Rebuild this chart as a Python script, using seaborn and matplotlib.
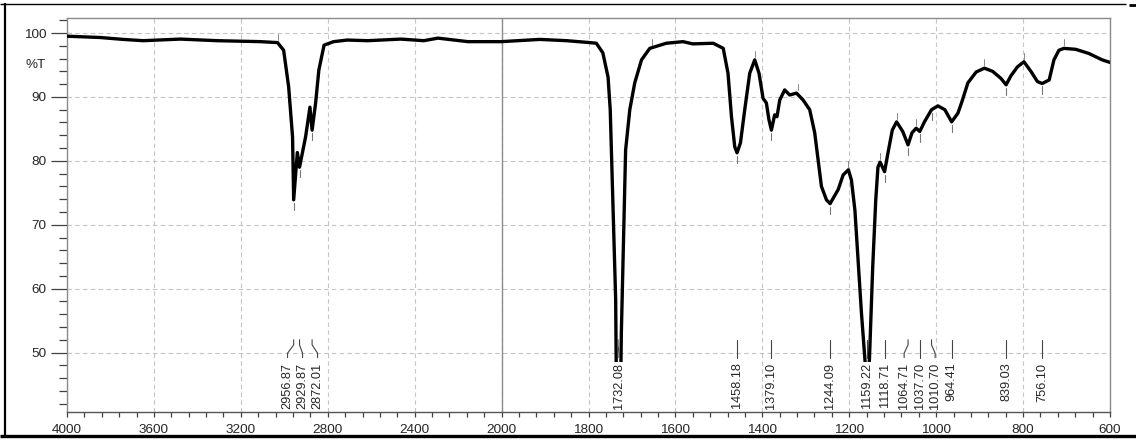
import numpy as np
import matplotlib
matplotlib.use("Agg")
import matplotlib.pyplot as plt
from matplotlib.lines import Line2D
from matplotlib.ticker import FixedLocator, NullFormatter
import seaborn as sns

# ---------------- data ----------------
wavenumber = [4000, 3848, 3742, 3649, 3479, 3308, 3110, 3031, 3003, 2980, 2962,
              2956.87, 2940, 2929.87, 2902, 2882, 2872.01, 2856, 2841, 2817, 2773,
              2710, 2616, 2464, 2358, 2293, 2155, 2002, 1912, 1850, 1797, 1782,
              1767, 1755, 1750, 1744, 1737.5, 1736.3, 1732.08, 1725.3, 1724.4, 1719,
              1714.6, 1705, 1693.6, 1678, 1659, 1621, 1582.5, 1560, 1513, 1490,
              1479, 1471, 1463.5, 1458.18, 1450.4, 1440.5, 1429, 1417.5, 1407.6,
              1398.4, 1390.7, 1384.7, 1379.10, 1371.6, 1366.3, 1360, 1348.6, 1337,
              1321.5, 1306, 1291, 1279.5, 1271.7, 1264, 1252.5, 1244.09, 1225.5,
              1214, 1202, 1195, 1187, 1179.6, 1172, 1164, 1159.22, 1153.5, 1146,
              1139, 1134, 1129, 1118.71, 1111, 1101, 1091, 1077, 1064.71, 1055.5,
              1046, 1037.70, 1027, 1015.5, 1010.70, 996, 980, 964.41, 950, 942,
              927, 908, 889, 870, 851, 839.03, 828, 813, 798, 782, 767, 756.10,
              740, 729, 717.6, 706, 679, 648.7, 618, 600]
transmittance = [99.5, 99.3, 99.0, 98.8, 99.05, 98.8, 98.65, 98.5, 97.3, 91.6, 83.75,
                 73.9, 81.3, 79.0, 83.75, 88.4, 84.8, 89.0, 94.2, 98.1, 98.65,
                 98.9, 98.8, 99.05, 98.8, 99.2, 98.65, 98.65, 99.0, 98.8, 98.5, 98.4,
                 96.9, 93.1, 88.0, 73.9, 58.3, 48.5, 44.0, 48.5, 53.1, 68.75,
                 81.7, 88.0, 92.2, 95.8, 97.6, 98.4, 98.65, 98.3, 98.4, 97.6,
                 93.7, 86.9, 82.2, 81.25, 82.8, 88.0, 93.7, 95.8, 93.7,
                 89.8, 89.05, 86.4, 84.8, 87.2, 86.9, 89.5, 91.1, 90.3,
                 90.6, 89.5, 88.0, 84.4, 80.2, 76.0, 73.9, 73.3, 75.5,
                 77.8, 78.6, 77.0, 72.3, 64.5, 56.25, 49.0, 44.0, 49.0, 63.4,
                 73.9, 79.0, 79.8, 78.3, 81.2, 84.8, 86.1, 84.6, 82.5, 84.4,
                 85.1, 84.6, 86.1, 87.45, 88.0, 88.6, 88.0, 86.1, 87.45, 89.0,
                 92.2, 93.9, 94.5, 94.0, 92.9, 91.9, 93.3, 94.7, 95.5, 94.0, 92.4, 92.1,
                 92.65, 95.8, 97.3, 97.6, 97.45, 96.8, 95.8, 95.4]

peak_wn = [2956.87, 2929.87, 2872.01, 1732.08, 1458.18, 1379.10, 1244.09, 1159.22,
           1118.71, 1064.71, 1037.70, 1010.70, 964.41, 839.03, 756.10]
peak_t = [73.9, 79.0, 84.8, 44.0, 81.25, 84.8, 73.3, 44.0,
          78.3, 82.5, 84.6, 88.0, 86.1, 91.9, 92.1]
peak_labels = ["2956.87", "2929.87", "2872.01", "1732.08", "1458.18", "1379.10",
               "1244.09", "1159.22", "1118.71", "1064.71", "1037.70", "1010.70",
               "964.41", "839.03", "756.10"]
label_wn = [2985, 2916, 2847, 1730, 1458.18, 1379.10, 1244.09, 1159.22,
            1118.71, 1073.7, 1037.70, 1002.3, 964.41, 839.03, 756.10]

max_wn = [3031, 1655, 1417.5, 1318, 1202, 1129, 1091, 1046, 889, 798, 706]
max_t = [98.5, 97.6, 95.8, 90.6, 78.6, 79.8, 86.1, 85.1, 94.5, 95.5, 97.6]

x_major = [4000, 3600, 3200, 2800, 2400, 2000, 1800, 1600, 1400, 1200, 1000, 800, 600]
x_minor = list(range(3920, 2000, -80)) + list(range(1960, 600, -40))
y_major = [50, 60, 70, 80, 90, 100]
y_minor = list(range(42, 103, 2))

# ---------------- style ----------------
sns.set_style("white")
plt.rcParams['font.family'] = ['Liberation Sans', 'DejaVu Sans']

W, H = 1136, 441
fig = plt.figure(figsize=(W / 100, H / 100), dpi=100)
ax = fig.add_axes([67 / W, 1 - 412 / H, (1110 - 67) / W, (412 - 18) / H])


def fwd(x):
    x = np.asarray(x, dtype=float)
    return np.where(x >= 2000, 1400 + (x - 2000) / 2.0, x - 600)


def inv(u):
    u = np.asarray(u, dtype=float)
    return np.where(u >= 1400, 2000 + (u - 1400) * 2.0, u + 600)


ax.set_xscale('function', functions=(fwd, inv))

sns.lineplot(x=wavenumber, y=transmittance, ax=ax, color='black', linewidth=2.4,
             estimator=None, sort=True, zorder=3)

ax.set_xlim(4000, 600)
ax.set_ylim(40.7, 102.35)

ax.xaxis.set_major_locator(FixedLocator(x_major))
ax.xaxis.set_minor_locator(FixedLocator(x_minor))
ax.xaxis.set_minor_formatter(NullFormatter())
ax.set_xticklabels([str(v) for v in x_major])
ax.yaxis.set_major_locator(FixedLocator(y_major))
ax.yaxis.set_minor_locator(FixedLocator(y_minor))
ax.set_yticklabels([str(v) for v in y_major])

ax.tick_params(axis='x', which='both', direction='out', length=3.5, width=0.9,
               color='#404040', pad=5, labelsize=9.7, bottom=True)
ax.tick_params(axis='y', which='major', direction='out', length=11.5, width=0.9,
               color='#404040', pad=3.5, labelsize=9.7, left=True)
ax.tick_params(axis='y', which='minor', direction='out', length=6, width=0.9,
               color='#404040', left=True)

ax.grid(True, which='major', linestyle=(0, (4, 3)), color='#c4c4c4', linewidth=0.8)
ax.axvline(2000, color='#8c8c8c', linewidth=1.0, zorder=2)

for s in ax.spines.values():
    s.set_color('#8a8a8a')
    s.set_linewidth(1.0)
ax.spines['bottom'].set_color('#555555')

ax.set_xlabel('')
ax.set_ylabel('')
ax.text(-0.0201, 95, '%T', transform=ax.get_yaxis_transform(), ha='right',
        va='center', fontsize=9.7)

# peak markers and labels
for pk, pt, lab, lw_ in zip(peak_wn, peak_t, peak_labels, label_wn):
    if pt > 50:
        ax.plot([pk, pk], [pt - 0.45, pt - 1.6], color='#777777', lw=0.8, zorder=2)
    ax.plot([pk, pk, lw_, lw_], [52.0, 51.2, 49.9, 49.2], color='#444444', lw=0.8,
            zorder=4)
    ax.text(lw_, 48.44, lab, rotation=90, ha='center', va='top', fontsize=9.2,
            zorder=5, bbox=dict(facecolor='white', edgecolor='none', pad=0.6))

for mw, mt in zip(max_wn, max_t):
    ax.plot([mw, mw], [mt + 0.45, mt + 1.4], color='#888888', lw=0.7, zorder=2)

# outer frame of the figure
def fl(x0, y0, x1, y1, lw):
    fig.add_artist(Line2D([x0 / W, x1 / W], [1 - y0 / H, 1 - y1 / H],
                          color='black', linewidth=lw, solid_capstyle='butt'))

fl(5, 3, 5, 438, 1.6)
fl(0, 3.5, 1126, 3.5, 1.0)
fl(0, 436, W, 436, 2.4)
fl(1129, 5, W, 5, 2.0)

fig.savefig('out.png', dpi=100)
